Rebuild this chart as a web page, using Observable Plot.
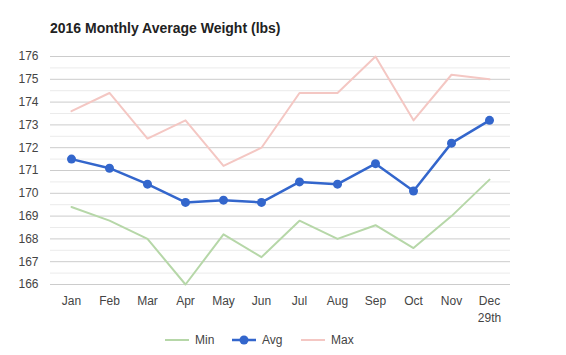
<!DOCTYPE html>
<html>
<head>
<meta charset="utf-8">
<script src="https://cdn.jsdelivr.net/npm/d3@7"></script>
<script src="https://cdn.jsdelivr.net/npm/@observablehq/plot@0.6"></script>
<style>
  body { margin: 0; background: #fff; font-family: Arial, "Liberation Sans", sans-serif; }
  #wrap { position: relative; width: 566px; height: 355px; overflow: hidden; }
  #title { position: absolute; left: 50px; top: 20px; font-size: 14px; font-weight: bold; color: #222; white-space: nowrap; }
  #chart { position: absolute; left: 0; top: 44px; }
  #legend { position: absolute; left: 0; top: 331px; width: 566px; height: 18px; font-size: 12px; color: #444; }
  .item { position: absolute; top: 0; display: flex; align-items: center; height: 18px; }
  .item svg { margin-right: 6px; }
</style>
</head>
<body>
<div id="wrap">
  <div id="title">2016 Monthly Average Weight (lbs)</div>
  <div id="chart"></div>
  <div id="legend"></div>
</div>
<script>
const months = ["Jan","Feb","Mar","Apr","May","Jun","Jul","Aug","Sep","Oct","Nov","Dec"];
const monthLabels = ["Jan","Feb","Mar","Apr","May","Jun","Jul","Aug","Sep","Oct","Nov","Dec\n29th"];
const minValues = [169.4,168.8,168.0,166.0,168.2,167.2,168.8,168.0,168.6,167.6,169.0,170.6];
const avgValues = [171.5,171.1,170.4,169.6,169.7,169.6,170.5,170.4,171.3,170.1,172.2,173.2];
const maxValues = [173.6,174.4,172.4,173.2,171.2,172.0,174.4,174.4,176.0,173.2,175.2,175.0];
const yTicks = [166,167,168,169,170,171,172,173,174,175,176];
const yMinorTicks = [166.5,167.5,168.5,169.5,170.5,171.5,172.5,173.5,174.5,175.5];
const seriesNames = ["Min","Avg","Max"];
const seriesColors = ["#b6d7a8","#3366cc","#f4c7c3"];

const minData = months.map((m,i)=>({month:m, value:minValues[i]}));
const avgData = months.map((m,i)=>({month:m, value:avgValues[i]}));
const maxData = months.map((m,i)=>({month:m, value:maxValues[i]}));
const labelOf = new Map(months.map((m,i)=>[m, monthLabels[i]]));

const chart = Plot.plot({
  width: 566,
  height: 286,
  marginLeft: 50,
  marginRight: 56,
  marginTop: 12,
  marginBottom: 46,
  style: { fontFamily: "Arial, 'Liberation Sans', sans-serif", fontSize: "12px", color: "#444", background: "transparent" },
  x: { type: "point", domain: months, padding: 0.5, label: null },
  y: { domain: [166, 176], label: null },
  marks: [
    Plot.ruleY(yMinorTicks, { stroke: "#ebebeb", strokeWidth: 1 }),
    Plot.ruleY(yTicks, { stroke: "#cccccc", strokeWidth: 1 }),
    Plot.axisY({ ticks: yTicks, tickSize: 0, tickPadding: 12, tickFormat: d => String(d), fill: "#444", label: null }),
    Plot.axisX({ tickSize: 0, tickPadding: 9, tickFormat: d => labelOf.get(d), fill: "#444", label: null, lineHeight: 1.4 }),
    Plot.line(minData, { x: "month", y: "value", stroke: seriesColors[0], strokeWidth: 2 }),
    Plot.line(maxData, { x: "month", y: "value", stroke: seriesColors[2], strokeWidth: 2 }),
    Plot.line(avgData, { x: "month", y: "value", stroke: seriesColors[1], strokeWidth: 2.5 }),
    Plot.dot(avgData, { x: "month", y: "value", fill: seriesColors[1], r: 4.5 })
  ]
});
document.getElementById("chart").appendChild(chart);

const legend = document.getElementById("legend");
const lefts = [165, 232, 301];
seriesNames.forEach((name, i) => {
  const item = document.createElement("div");
  item.className = "item";
  item.style.left = lefts[i] + "px";
  const dot = name === "Avg" ? `<circle cx="12" cy="9" r="4.5" fill="${seriesColors[i]}"/>` : "";
  item.innerHTML = `<svg width="24" height="18"><line x1="0" x2="24" y1="9" y2="9" stroke="${seriesColors[i]}" stroke-width="${name==="Avg"?2.5:2}"/>${dot}</svg><span>${name}</span>`;
  legend.appendChild(item);
});
</script>
</body>
</html>
